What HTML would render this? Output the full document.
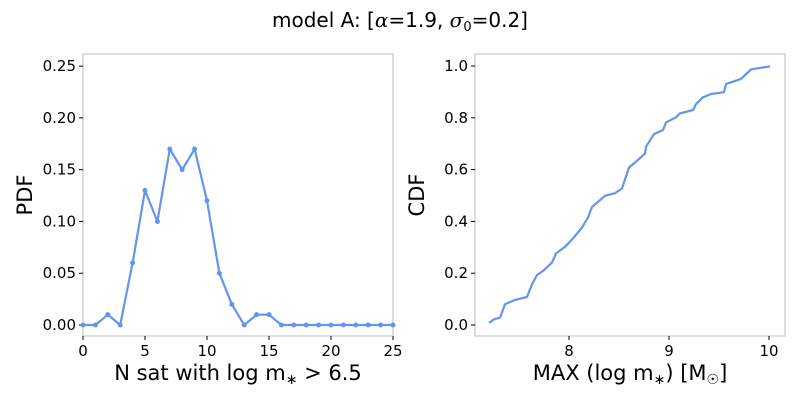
<!DOCTYPE html>
<html><head><meta charset="utf-8"><style>
body{margin:0;background:#fff}
svg{display:block;font-family:"DejaVu Sans","Liberation Sans",sans-serif}
</style></head><body>
<svg id="c" width="800" height="400">
<text x="400" y="27" text-anchor="middle" font-size="20">model A: [<tspan font-family="DejaVu Serif" font-style="italic">α</tspan>=1.9, <tspan font-family="DejaVu Serif" font-style="italic">σ</tspan><tspan font-size="13" dy="4">0</tspan><tspan dy="-4">=0.2]</tspan></text>
</svg>
<script>
const pdfX=[0,1,2,3,4,5,6,7,8,9,10,11,12,13,14,15,16,17,18,19,20,21,22,23,24,25];
const pdfY=[0,0,0.01,0,0.06,0.13,0.10,0.17,0.15,0.17,0.12,0.05,0.02,0,0.01,0.01,0,0,0,0,0,0,0,0,0,0];
const pdfXTicks=[0,5,10,15,20,25];
const pdfYTicks=[0,0.05,0.10,0.15,0.20,0.25];
const cdfX=[7.20,7.25,7.31,7.36,7.46,7.58,7.63,7.68,7.74,7.83,7.87,7.96,8.04,8.13,8.19,8.23,8.36,8.46,8.53,8.60,8.69,8.76,8.77,8.85,8.94,8.97,9.07,9.11,9.24,9.27,9.34,9.42,9.55,9.57,9.72,9.82,10.01];
const cdfY=[0.008,0.022,0.028,0.08,0.097,0.108,0.157,0.193,0.209,0.241,0.276,0.302,0.334,0.376,0.415,0.456,0.499,0.509,0.527,0.608,0.637,0.662,0.688,0.737,0.753,0.782,0.802,0.817,0.830,0.853,0.879,0.892,0.899,0.930,0.950,0.987,0.999];
const cdfXTicks=[8,9,10];
const cdfYTicks=[0,0.2,0.4,0.6,0.8,1.0];
const svg=document.getElementById('c');const NS='http://www.w3.org/2000/svg';
function mk(t,a,p){const e=document.createElementNS(NS,t);for(const k in a)e.setAttribute(k,a[k]);(p||svg).appendChild(e);return e;}
const blue='#6495ed';
function panel(px,L,R,T,B,x0,x1,y0,y1,xt,yt,xfmt,yfmt,xl,yl,xs,ys,dots){
  const g=mk('g',{});
  
  
  const sx=v=>L+(v-x0)/(x1-x0)*(R-L), sy=v=>B-(v-y0)/(y1-y0)*(B-T);
  const r=mk('rect',{x:L,y:T,width:R-L,height:B-T,fill:'none',stroke:'#bbb','stroke-width':1},g);
  
  
  xt.forEach(v=>{const x=sx(v);mk('line',{x1:x,x2:x,y1:B,y2:B+4,stroke:'#000'},g);
    const t=mk('text',{x:x,y:B+20,'text-anchor':'middle','font-size':15},g);t.textContent=xfmt(v);
    
    });
  yt.forEach(v=>{const y=sy(v);mk('line',{x1:L-4,x2:L,y1:y,y2:y,stroke:'#000'},g);
    const t=mk('text',{x:L-7,y:y+5,'text-anchor':'end','font-size':15},g);t.textContent=yfmt(v);
    
    });
  const xlab=mk('text',{x:(L+R)/2,y:B+44,'text-anchor':'middle','font-size':21},g);xlab.innerHTML=xl;
  
  
  const cy=(T+B)/2;const ylab=mk('text',{x:L-51,y:cy,'text-anchor':'middle','font-size':21,transform:`rotate(-90 ${L-51} ${cy})`},g);ylab.textContent=yl;
  
  
  const pts=xs.map((v,i)=>sx(v).toFixed(1)+','+sy(ys[i]).toFixed(1)).join(' ');
  const pl=mk('polyline',{points:pts,fill:'none',stroke:blue,'stroke-width':2.2,'stroke-linejoin':'round'},g);
  
  
  if(dots)xs.forEach((v,i)=>{const c=mk('circle',{cx:sx(v),cy:sy(ys[i]),r:2.5,fill:blue},g);
    
    });
}
panel('pdf',83,393,54,336,0,25,-0.0106,0.2617,pdfXTicks,pdfYTicks,v=>String(v),v=>v.toFixed(2),
 'N sat with log m<tspan font-size="14" dy="4">∗</tspan><tspan dy="-4"> &gt; 6.5</tspan>','PDF',pdfX,pdfY,true);
panel('cdf',475,785,54,336,7.06,10.16,-0.0425,1.0463,cdfXTicks,cdfYTicks,v=>String(v),v=>v.toFixed(1),
 'MAX (log m<tspan font-size="14" dy="4">∗</tspan><tspan dy="-4">) [M</tspan><tspan font-size="14" dy="4">☉</tspan><tspan dy="-4">]</tspan>','CDF',cdfX,cdfY,false);
</script>
</body></html>
